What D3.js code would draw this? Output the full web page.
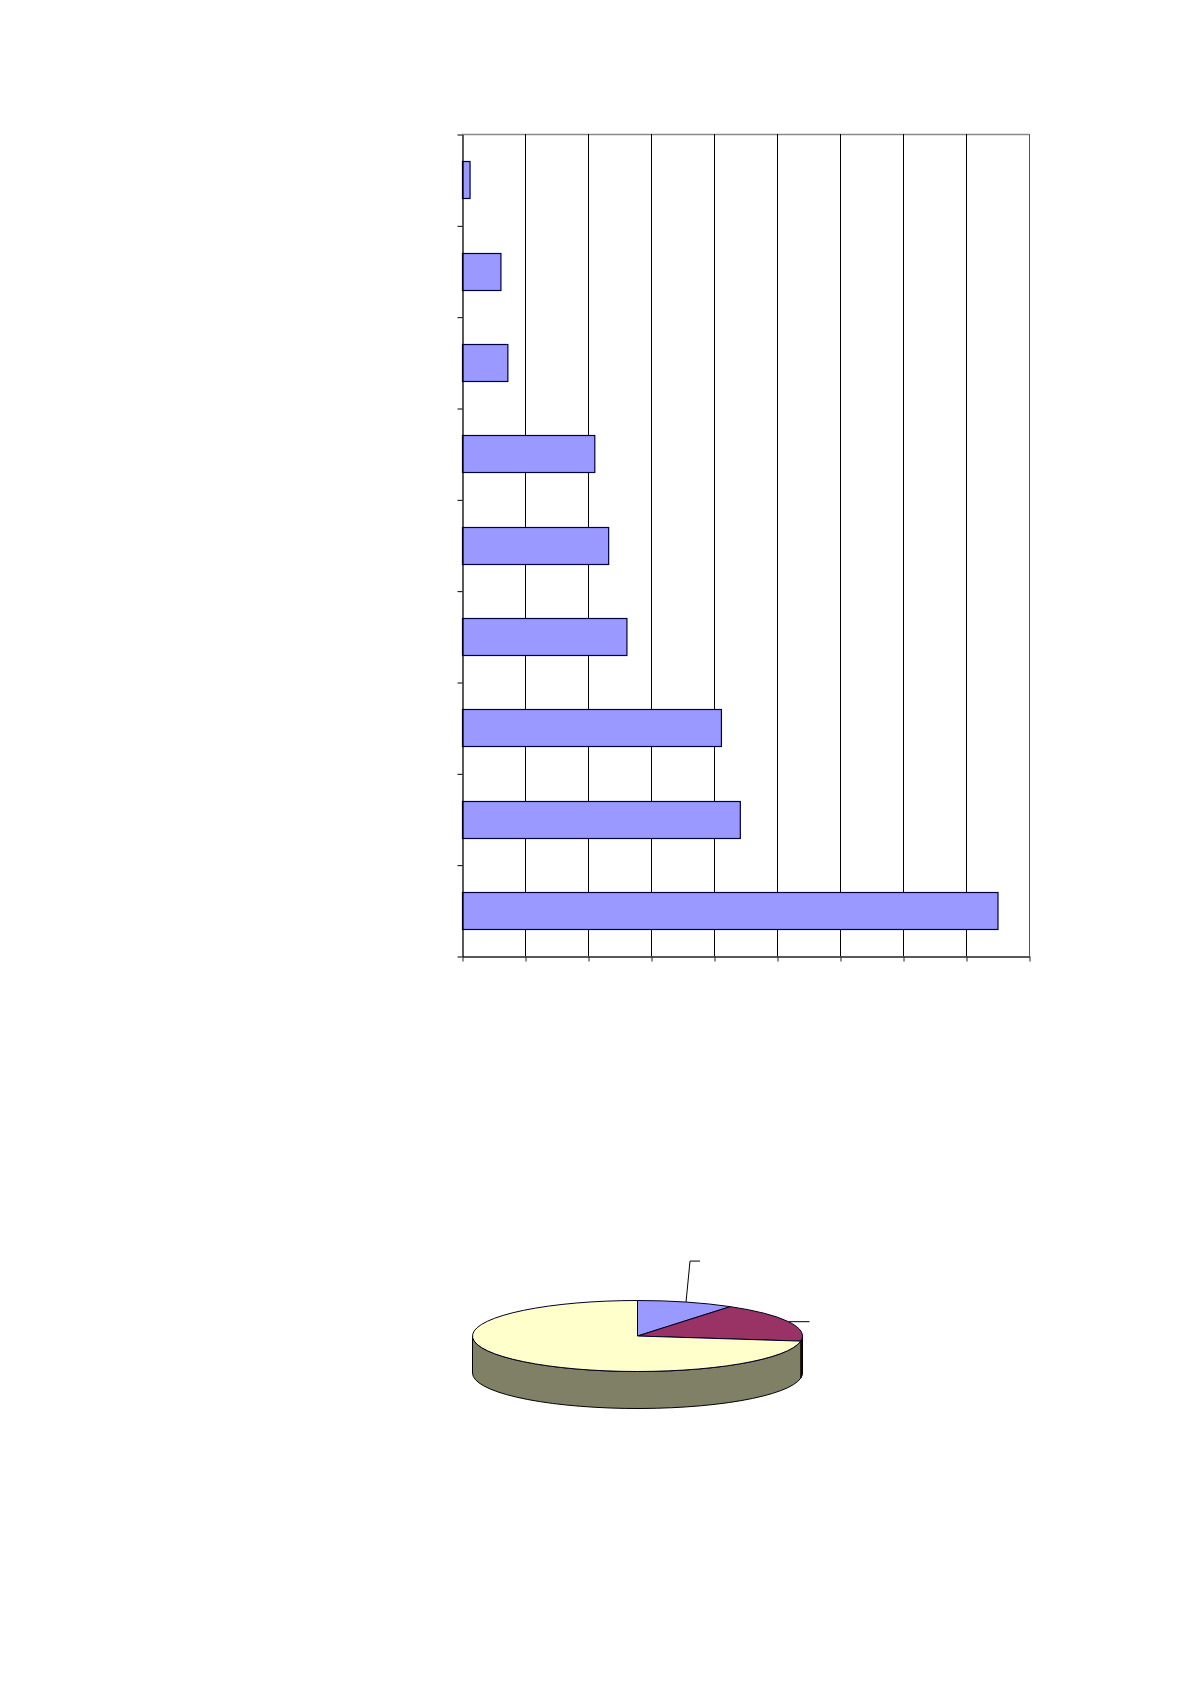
<!DOCTYPE html>
<html>
<head>
<meta charset="utf-8">
<script src="https://cdn.jsdelivr.net/npm/d3@7"></script>
<style>
  html, body { margin: 0; padding: 0; background: #ffffff; }
  svg { display: block; }
</style>
</head>
<body>
<svg id="chart" width="1191" height="1684"></svg>
<script>
// ---- data ----
const barCategories = ["c1", "c2", "c3", "c4", "c5", "c6", "c7", "c8", "c9"]; // no labels shown in the original
const barValues = [0.12, 0.61, 0.72, 2.10, 2.32, 2.61, 4.11, 4.41, 8.50];
const xTickValues = [0, 1, 2, 3, 4, 5, 6, 7, 8, 9];

const pieCategories = ["p1", "p2", "p3"];
const pieValues = [9.5, 17.8, 72.7];
const pieColors = ["#9999ff", "#993366", "#ffffcc"];
const pieSideColors = ["#4c4c80", "#2e0a1c", "#808066"];
const pieLeader = [true, true, false];

// ---- layout ----
const svg = d3.select("#chart");
const plot = { left: 462, right: 1029, top: 134, bottom: 956 };

const x = d3.scaleLinear().domain([0, 9]).range([plot.left, plot.right]);
const y = d3.scaleBand().domain(barCategories).range([plot.top, plot.bottom])
  .paddingInner(0.6).paddingOuter(0.3);
const yEdges = d3.scaleLinear().domain([0, barCategories.length]).range([plot.top, plot.bottom]);

const g = svg.append("g");

// plot border (top/right) in grey
g.append("line").attr("x1", plot.left).attr("x2", plot.right)
  .attr("y1", plot.top + 0.5).attr("y2", plot.top + 0.5)
  .attr("stroke", "#8a8a8a").attr("stroke-width", 1.5);

// vertical gridlines
g.selectAll("line.grid").data(xTickValues.slice(1)).join("line")
  .attr("class", "grid")
  .attr("x1", d => Math.round(x(d)) + 0.5).attr("x2", d => Math.round(x(d)) + 0.5)
  .attr("y1", plot.top).attr("y2", plot.bottom)
  .attr("stroke", (d, i) => i === xTickValues.length - 2 ? "#555" : "#000")
  .attr("stroke-width", 1);

// bars
g.selectAll("rect.bar").data(barValues).join("rect")
  .attr("class", "bar")
  .attr("x", x(0) + 0.5)
  .attr("y", (d, i) => Math.round(y(barCategories[i])) + 0.5)
  .attr("width", d => x(d) - x(0))
  .attr("height", Math.round(y.bandwidth()))
  .attr("fill", "#9999ff")
  .attr("stroke", "#000040")
  .attr("stroke-width", 1.2);

// x axis (bottom), ticks without labels
const xAxis = d3.axisBottom(x).tickValues(xTickValues).tickFormat("").tickSizeInner(5).tickSizeOuter(0);
const gx = g.append("g").attr("transform", `translate(0.5,${plot.bottom + 0.5})`).call(xAxis);
gx.select(".domain").attr("stroke", "#222").attr("stroke-width", 1.3);
gx.selectAll(".tick line").attr("stroke", "#222");

// y axis (left), tick marks between categories
const yAxis = d3.axisLeft(yEdges).tickValues(d3.range(barCategories.length + 1)).tickFormat("").tickSizeInner(5).tickSizeOuter(0);
const gy = g.append("g").attr("transform", `translate(${plot.left + 0.5},0.5)`).call(yAxis);
gy.select(".domain").attr("stroke", "#000").attr("stroke-width", 1.3);
gy.selectAll(".tick line").attr("stroke", "#000");

// ---- 3D pie ----
const pie3d = { cx: 637.5, cy: 1336, rx: 165, ry: 35.5, depth: 37 };
const arcs = d3.pie().sort(null).value(d => d)(pieValues);

const pt = (a, dy = 0) => [pie3d.cx + pie3d.rx * Math.sin(a), pie3d.cy - pie3d.ry * Math.cos(a) + dy];

// sides (only the front half is visible)
const sideG = svg.append("g");
arcs.forEach((a, i) => {
  const b0 = Math.max(a.startAngle, Math.PI / 2);
  const b1 = Math.min(a.endAngle, 3 * Math.PI / 2);
  if (b1 <= b0) return;
  const p0 = pt(b0), p1 = pt(b1), q1 = pt(b1, pie3d.depth), q0 = pt(b0, pie3d.depth);
  const large = (b1 - b0) > Math.PI ? 1 : 0;
  const d = `M${p0[0]},${p0[1]} A${pie3d.rx},${pie3d.ry} 0 ${large} 1 ${p1[0]},${p1[1]}` +
            ` L${q1[0]},${q1[1]} A${pie3d.rx},${pie3d.ry} 0 ${large} 0 ${q0[0]},${q0[1]} Z`;
  sideG.append("path").attr("d", d)
    .attr("fill", pieSideColors[i])
    .attr("stroke", "#000").attr("stroke-width", 1).attr("stroke-linejoin", "round");
});

// top face
const arcGen = d3.arc().innerRadius(0).outerRadius(pie3d.rx);
const topG = svg.append("g")
  .attr("transform", `translate(${pie3d.cx},${pie3d.cy}) scale(1,${pie3d.ry / pie3d.rx})`);
topG.selectAll("path").data(arcs).join("path")
  .attr("d", arcGen)
  .attr("fill", (d, i) => pieColors[i])
  .attr("stroke", "#000020")
  .attr("stroke-width", 1)
  .attr("vector-effect", "non-scaling-stroke")
  .attr("stroke-linejoin", "round");

// leader lines for the two small slices
const leaderG = svg.append("g");
arcs.forEach((a, i) => {
  if (!pieLeader[i]) return;
  const mid = (a.startAngle + a.endAngle) / 2;
  const s = pt(mid);
  let pts;
  if (Math.abs(Math.sin(mid)) < 0.5) {
    // near top: rise then short horizontal
    pts = [s, [s[0] + 4, s[1] - 41], [s[0] + 14, s[1] - 41]];
  } else {
    pts = [s, [s[0] + 21, s[1]]];
  }
  leaderG.append("path").attr("d", d3.line()(pts))
    .attr("fill", "none").attr("stroke", "#000").attr("stroke-width", 1);
});
</script>
</body>
</html>
